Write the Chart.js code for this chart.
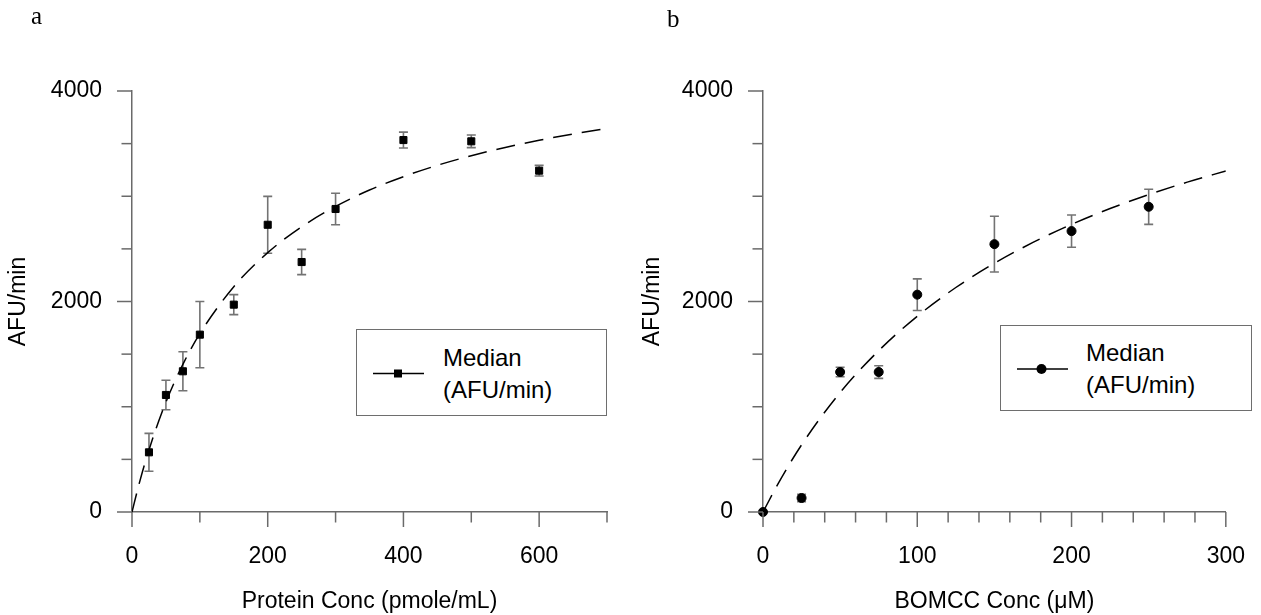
<!DOCTYPE html>
<html>
<head>
<meta charset="utf-8">
<script src="https://cdn.jsdelivr.net/npm/chart.js@4"></script>
<style>
  body { margin: 0; background: #fff; width: 1261px; height: 615px; position: relative; overflow: hidden; font-family: "Liberation Sans", Arial, sans-serif; }
  canvas { position: absolute; top: 0; }
  #chartA { left: 0; }
  #chartB { left: 630px; }
  .panel { position: absolute; font-family: "Liberation Serif", "Times New Roman", serif; font-size: 25px; color: #000; }
  .legend { position: absolute; border: 1.5px solid #6e6e6e; box-sizing: border-box; background: #fff; }
  .legend svg { position: absolute; left: 0; top: 0; }
  .legend .txt { position: absolute; font-size: 24px; line-height: 32px; color: #000; }
</style>
</head>
<body>
<canvas id="chartA" width="630" height="615"></canvas>
<canvas id="chartB" width="631" height="615"></canvas>

<div class="panel" style="left:31px; top:2px;">a</div>
<div class="panel" style="left:667px; top:5px;">b</div>

<div class="legend" style="left:356px; top:329px; width:251px; height:87px;">
  <svg width="80" height="87">
    <line x1="16" y1="43.5" x2="67" y2="43.5" stroke="#000" stroke-width="1.5"/>
    <rect x="37" y="39.5" width="8" height="8" fill="#000"/>
  </svg>
  <div class="txt" style="left:86px; top:12px;">Median<br>(AFU/min)</div>
</div>

<div class="legend" style="left:1000px; top:325px; width:252px; height:86px;">
  <svg width="80" height="86">
    <line x1="16" y1="43" x2="67" y2="43" stroke="#000" stroke-width="1.5"/>
    <circle cx="40.5" cy="43" r="5" fill="#000"/>
  </svg>
  <div class="txt" style="left:85px; top:11px;">Median<br>(AFU/min)</div>
</div>

<script>
// panel a: protein concentration
const protConc   = [25, 50, 75, 100, 150, 200, 250, 300, 400, 500, 600];
const protMedian = [567, 1112, 1337, 1685, 1970, 2729, 2375, 2879, 3534, 3522, 3243];
const protErr    = [180, 140, 185, 315, 95, 270, 120, 150, 75, 60, 50];
const protFitX   = [0, 10, 25, 50, 75, 100, 150, 200, 250, 300, 350, 400, 450, 500, 550, 600, 650, 700];
const protFitY   = [0, 256, 590, 1044, 1403, 1695, 2140, 2464, 2710, 2903, 3059, 3186, 3294, 3385, 3464, 3532, 3592, 3645];

// panel b: BOMCC concentration
const bomccConc   = [0, 25, 50, 75, 100, 150, 200, 250];
const bomccMedian = [0, 133, 1330, 1330, 2065, 2545, 2669, 2900];
const bomccErr    = [0, 35, 45, 60, 150, 265, 153, 167];
const bomccFitX   = [0, 10, 25, 50, 75, 100, 125, 150, 175, 200, 225, 250, 275, 300];
const bomccFitY   = [0, 275, 638, 1135, 1533, 1860, 2133, 2363, 2561, 2733, 2883, 3016, 3134, 3240];

const AXIS = '#6a6a6a';
const FONT = { family: '"Liberation Sans", Arial, sans-serif', size: 23 };

function pts(xs, ys) { return xs.map((x, i) => ({ x: x, y: ys[i] })); }

// tick marks drawn outside the axes, long ones on labelled values
const tickMarks = {
  id: 'tickMarks',
  afterDraw(chart) {
    const ctx = chart.ctx;
    const area = chart.chartArea;
    ctx.save();
    ctx.strokeStyle = AXIS;
    ctx.lineWidth = 1.5;
    const xs = chart.scales.x, ys = chart.scales.y;
    const xMajor = chart.options.scales.x.majorStep, yMajor = chart.options.scales.y.majorStep;
    xs.ticks.forEach(t => {
      const px = xs.getPixelForValue(t.value);
      const len = t.value % xMajor === 0 ? 15 : 10.5;
      ctx.beginPath(); ctx.moveTo(px, area.bottom); ctx.lineTo(px, area.bottom + len); ctx.stroke();
    });
    ys.ticks.forEach(t => {
      const py = ys.getPixelForValue(t.value);
      const len = t.value % yMajor === 0 ? 15 : 10.5;
      ctx.beginPath(); ctx.moveTo(area.left, py); ctx.lineTo(area.left - len, py); ctx.stroke();
    });
    ctx.restore();
  }
};

// vertical error bars with caps, under the markers
const errorBars = {
  id: 'errorBars',
  beforeDatasetsDraw(chart) {
    const ctx = chart.ctx;
    const xs = chart.scales.x, ys = chart.scales.y;
    ctx.save();
    ctx.strokeStyle = '#737373';
    ctx.lineWidth = 1.6;
    chart.data.datasets.forEach(ds => {
      if (!ds.errors) return;
      ds.data.forEach((p, i) => {
        const e = ds.errors[i];
        if (!e) return;
        const px = xs.getPixelForValue(p.x);
        const top = ys.getPixelForValue(p.y + e), bot = ys.getPixelForValue(p.y - e);
        ctx.beginPath();
        ctx.moveTo(px, top); ctx.lineTo(px, bot);
        ctx.moveTo(px - 4.5, top); ctx.lineTo(px + 4.5, top);
        ctx.moveTo(px - 4.5, bot); ctx.lineTo(px + 4.5, bot);
        ctx.stroke();
      });
    });
    ctx.restore();
  }
};

function makeChart(id, cfg) {
  return new Chart(document.getElementById(id), {
    type: 'scatter',
    data: {
      datasets: [
        {
          type: 'line', data: pts(cfg.fitX, cfg.fitY),
          borderColor: '#000', borderWidth: 1.5, borderDash: [19, 10],
          pointRadius: 0, fill: false, cubicInterpolationMode: 'monotone'
        },
        {
          data: pts(cfg.xs, cfg.ys), errors: cfg.err, clip: false,
          pointStyle: cfg.marker, pointRadius: cfg.radius,
          backgroundColor: '#000', borderColor: '#000', borderWidth: 1
        }
      ]
    },
    options: {
      responsive: false,
      animation: false,
      layout: { padding: { top: 91, right: cfg.padRight, left: 0, bottom: 0 } },
      plugins: { legend: { display: false }, tooltip: { enabled: false } },
      scales: {
        x: {
          type: 'linear', min: 0, max: cfg.xMax, majorStep: cfg.xMajor,
          afterFit: s => { s.height = 103; },
          ticks: {
            stepSize: cfg.xStep, autoSkip: false, maxRotation: 0, padding: 16, color: '#000', font: FONT,
            callback: v => (v % cfg.xMajor === 0 ? String(v) : '')
          },
          grid: { drawOnChartArea: false, tickLength: 15, tickColor: 'rgba(0,0,0,0)' },
          border: { color: AXIS, width: 1.5 },
          title: { display: true, text: cfg.xTitle, color: '#000', font: FONT, padding: { top: 0, bottom: 0 } }
        },
        y: {
          min: 0, max: 4000, majorStep: 2000,
          afterFit: s => { s.width = cfg.yWidth; },
          ticks: {
            stepSize: 500, autoSkip: false, padding: 15, color: '#000', font: FONT,
            callback: v => (v % 2000 === 0 ? String(v) : '')
          },
          grid: { drawOnChartArea: false, tickLength: 15, tickColor: 'rgba(0,0,0,0)' },
          border: { color: AXIS, width: 1.5 },
          title: { display: true, text: 'AFU/min', color: '#000', font: FONT, padding: { top: cfg.yTitlePad, bottom: 0 } }
        }
      }
    },
    plugins: [errorBars, tickMarks]
  });
}

makeChart('chartA', {
  xs: protConc, ys: protMedian, err: protErr, fitX: protFitX, fitY: protFitY,
  marker: 'rect', radius: 5, xMax: 700, xStep: 100, xMajor: 200,
  xTitle: 'Protein Conc (pmole/mL)', yWidth: 132, padRight: 23, yTitlePad: 5
});

makeChart('chartB', {
  xs: bomccConc, ys: bomccMedian, err: bomccErr, fitX: bomccFitX, fitY: bomccFitY,
  marker: 'circle', radius: 4.5, xMax: 300, xStep: 20, xMajor: 100,
  xTitle: 'BOMCC Conc (\u03BCM)', yWidth: 133, padRight: 25, yTitlePad: 9
});
</script>
</body>
</html>
